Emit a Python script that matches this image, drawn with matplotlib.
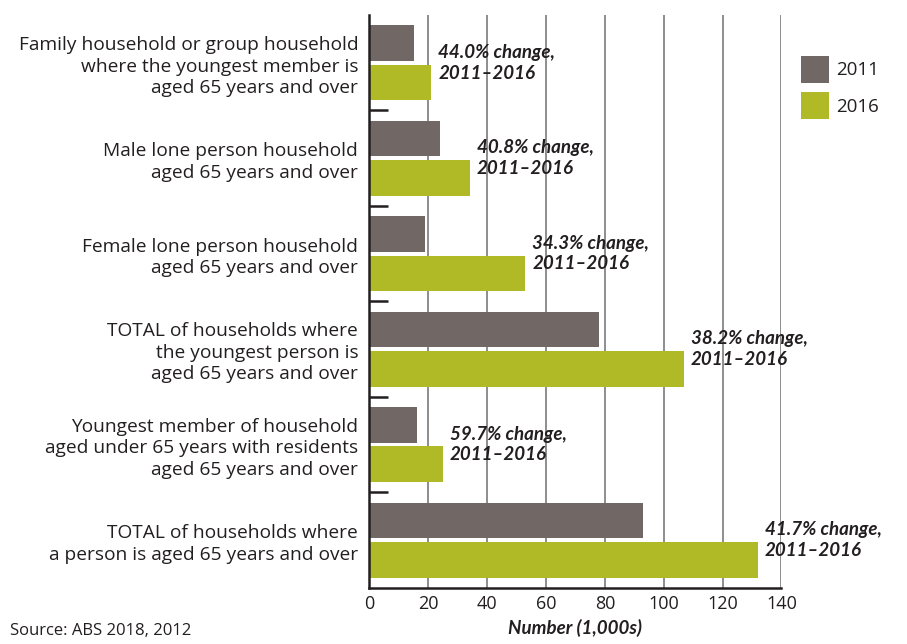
import numpy as np
import matplotlib
matplotlib.use('Agg')
import matplotlib.pyplot as plt

# data (thousands of households)
categories = [
    'Family household or group household\nwhere the youngest member is\naged 65 years and over',
    'Male lone person household\naged 65 years and over',
    'Female lone person household\naged 65 years and over',
    'TOTAL of households where\nthe youngest person is\naged 65 years and over',
    'Youngest member of household\naged under 65 years with residents\naged 65 years and over',
    'TOTAL of households where\na person is aged 65 years and over',
]
values_2011 = [15.2, 24.0, 18.9, 78.0, 16.1, 92.8]
values_2016 = [21.0, 34.2, 52.9, 106.9, 24.9, 131.9]
changes = ['44.0%', '40.8%', '34.3%', '38.2%', '59.7%', '41.7%']
xticks = [0, 20, 40, 60, 80, 100, 120, 140]

c2011 = '#716764'
c2016 = '#afba26'
dark = '#231f20'

plt.rcParams['font.family'] = ['Open Sans', 'DejaVu Sans']

fig = plt.figure(figsize=(9.07, 6.44), dpi=100)
ax = fig.add_axes([0.4072, 0.0870, 0.4544, 0.8897])

y = np.arange(len(categories))
h = 0.375
off = 0.206
ax.barh(y - off, values_2011, h, color=c2011, label='2011', zorder=3)
ax.barh(y + off, values_2016, h, color=c2016, label='2016', zorder=3)

for i in range(len(categories)):
    ax.text(values_2016[i] + 2.4, y[i], changes[i] + ' change,\n2011\u20132016',
            ha='left', va='center', fontsize=13.5, fontweight='bold',
            fontstyle='italic', color=dark, zorder=4, linespacing=1.25,
            family=['Lato', 'DejaVu Sans'])

ax.set_xlim(0, 140)
ax.set_ylim(5.5, -0.5)
ax.set_xticks(xticks)
ax.set_xticklabels([str(t) for t in xticks], fontsize=13, color=dark)
ax.set_yticks(y)
ax.set_yticklabels(categories, fontsize=13.8, color=dark, linespacing=1.25)
ax.set_yticks(np.arange(0.5, 5, 1), minor=True)
ax.tick_params(axis='x', length=0, pad=5)
ax.tick_params(axis='y', which='major', length=0, pad=8)
ax.tick_params(axis='y', which='minor', direction='in', length=14, width=1.8, color=dark)

ax.grid(axis='x', color='#6f6f6f', lw=1.1, zorder=1)
for s in ['top', 'right']:
    ax.spines[s].set_visible(False)
for s in ['left', 'bottom']:
    ax.spines[s].set_color(dark)
    ax.spines[s].set_linewidth(1.8)
    ax.spines[s].set_zorder(5)

ax.set_xlabel('Number (1,000s)', fontsize=13.5, fontweight='bold', fontstyle='italic',
              color=dark, labelpad=4, family=['Lato', 'DejaVu Sans'])

fig.legend(loc='upper left', bbox_to_anchor=(0.864, 0.94), frameon=False,
           fontsize=13.5, handlelength=1.5, handleheight=1.85, labelspacing=0.5,
           handletextpad=0.4, labelcolor=dark)

fig.text(0.011, 0.02, 'Source: ABS 2018, 2012', fontsize=12, color=dark, va='center')

fig.savefig('out.png', dpi=100)
